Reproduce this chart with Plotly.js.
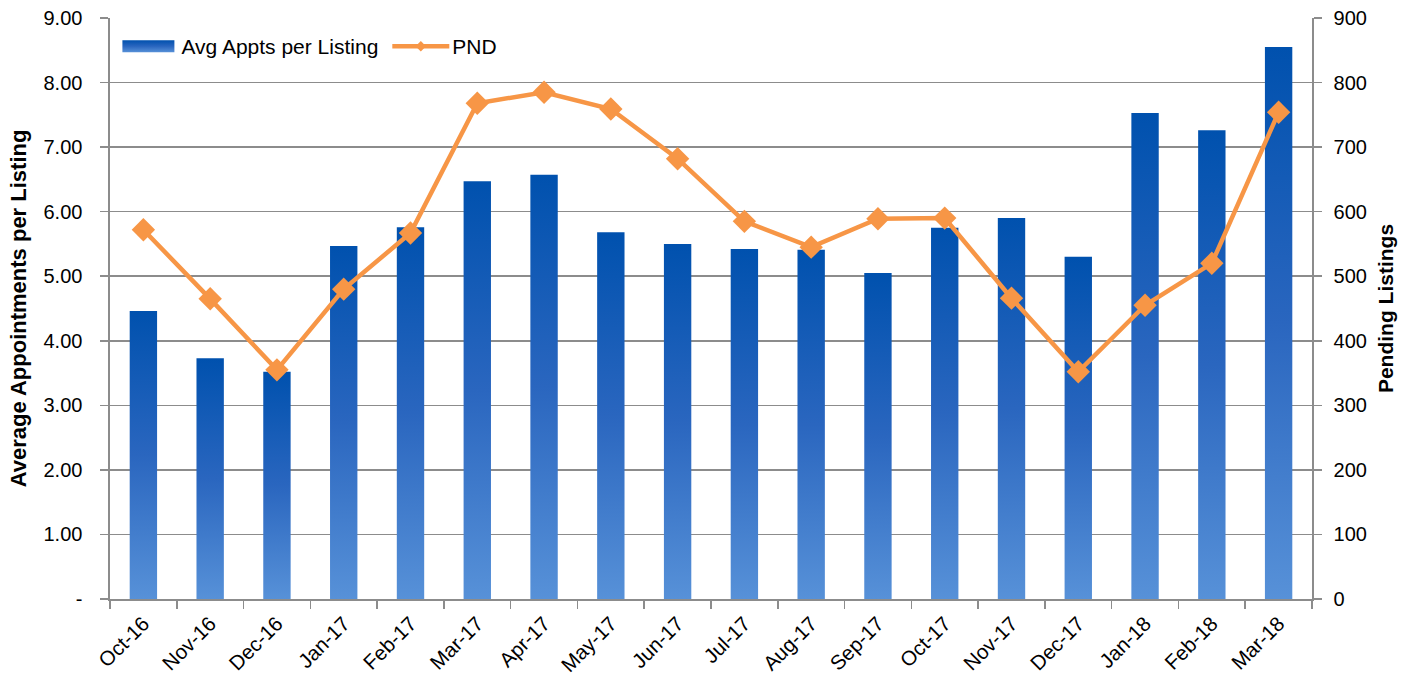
<!DOCTYPE html>
<html>
<head>
<meta charset="utf-8">
<script src="https://cdn.plot.ly/plotly-3.0.1.min.js"></script>
<style>html,body{margin:0;padding:0;background:#fff;}#chart{width:1416px;height:675px;}</style>
</head>
<body>
<div id="chart"></div>
<script>
const months = ["Oct-16","Nov-16","Dec-16","Jan-17","Feb-17","Mar-17","Apr-17","May-17","Jun-17","Jul-17","Aug-17","Sep-17","Oct-17","Nov-17","Dec-17","Jan-18","Feb-18","Mar-18"];
const avgAppts = [4.46,3.73,3.52,5.47,5.76,6.47,6.57,5.68,5.50,5.42,5.41,5.05,5.75,5.90,5.30,7.53,7.26,8.55];
const pnd = [572,465,355,480,567,768,785,759,682,585,545,589,590,466,352,455,520,754];
const leftTickVals = [0,1,2,3,4,5,6,7,8,9];
const leftTickText = ["-","1.00","2.00","3.00","4.00","5.00","6.00","7.00","8.00","9.00"];

const font = "Liberation Sans, Arial, sans-serif";
const gray = "#8c8c8c";

const traces = [
  {
    type: "bar", x: months, y: avgAppts, name: "Avg Appts per Listing",
    marker: {color: "#2a68c0", line: {width: 0}}, width: 0.41, yaxis: "y"
  },
  {
    type: "scatter", mode: "lines+markers", x: months, y: pnd, name: "PND", yaxis: "y2",
    line: {color: "#F79646", width: 4.5},
    marker: {symbol: "diamond", size: 18, color: "#F79646"}
  }
];

const layout = {
  width: 1416, height: 675,
  margin: {l: 110, r: 104, t: 18, b: 76},
  paper_bgcolor: "#fff", plot_bgcolor: "#fff",
  font: {family: font, size: 20, color: "#000"},
  showlegend: true,
  legend: {
    orientation: "h", x: 0.002, y: 0.986, xanchor: "left", yanchor: "top",
    font: {family: font, size: 21, color: "#000"}, bgcolor: "rgba(0,0,0,0)",
    traceorder: "normal", itemwidth: 59
  },
  xaxis: {
    type: "category", range: [-0.5, 17.5], tickangle: -45, ticks: "outside", tickson: "boundaries",
    ticklen: 8, tickcolor: gray, tickwidth: 1.5,
    showline: true, linecolor: gray, linewidth: 1.5, showgrid: false,
    ticklabelstandoff: 3,
    tickfont: {family: font, size: 20.5}, automargin: false
  },
  yaxis: {
    range: [0, 9], tickvals: leftTickVals, ticktext: leftTickText,
    showgrid: true, gridcolor: gray, gridwidth: 1.6, zeroline: false,
    showline: true, linecolor: gray, linewidth: 1.6,
    ticks: "outside", ticklen: 8, tickcolor: gray, tickwidth: 1.5,
    ticklabelstandoff: 14,
    tickfont: {family: font, size: 20},
    title: {text: "<b>Average Appointments per Listing</b>", font: {family: font, size: 22}, standoff: 11},
    automargin: false
  },
  yaxis2: {
    overlaying: "y", side: "right", range: [0, 900], dtick: 100, tick0: 0,
    showgrid: false, zeroline: false,
    showline: true, linecolor: gray, linewidth: 1.6,
    ticks: "outside", ticklen: 8, tickcolor: gray, tickwidth: 1.5,
    ticklabelstandoff: 8,
    tickfont: {family: font, size: 20},
    title: {text: "<b>Pending Listings</b>", font: {family: font, size: 21}, standoff: 12},
    automargin: false
  }
};

const SVGNS = "http://www.w3.org/2000/svg";

function toLocalX(el, screenX) {
  const m = el.parentNode.getScreenCTM();
  const pt = el.ownerSVGElement.createSVGPoint();
  pt.x = screenX; pt.y = 0;
  return pt.matrixTransform(m.inverse()).x;
}

function applyStyling(gd) {
  const svg = gd.querySelector("svg.main-svg");
  if (!svg) return;
  let defs = svg.querySelector("defs");
  if (!defs) { defs = document.createElementNS(SVGNS, "defs"); svg.insertBefore(defs, svg.firstChild); }
  if (!svg.querySelector("#barGrad")) {
    const lg = document.createElementNS(SVGNS, "linearGradient");
    lg.setAttribute("id", "barGrad");
    lg.setAttribute("x1", "0"); lg.setAttribute("y1", "0");
    lg.setAttribute("x2", "0"); lg.setAttribute("y2", "1");
    [["0", "#0051ae"], ["0.5", "#2a66bf"], ["1", "#5791d8"]].forEach(s => {
      const st = document.createElementNS(SVGNS, "stop");
      st.setAttribute("offset", s[0]); st.setAttribute("stop-color", s[1]);
      lg.appendChild(st);
    });
    defs.appendChild(lg);
  }
  gd.querySelectorAll(".barlayer .trace.bars .point path").forEach(p => { p.style.fill = "url(#barGrad)"; });

  const items = gd.querySelectorAll(".legend .traces");
  items.forEach((t, i) => {
    const txt = t.querySelector("text.legendtext");
    if (!txt) return;
    const tx = txt.getBoundingClientRect().left;
    if (i === 0) {
      const p = t.querySelector(".legendpoints path");
      if (!p || p.dataset.done) return;
      p.removeAttribute("transform");
      const right = toLocalX(p, tx - 7);
      p.setAttribute("d", `M${right - 52},-6h52v12h-52z`);
      p.style.fill = "url(#barGrad)";
      p.dataset.done = "1";
    } else {
      const ln = t.querySelector(".legendlines path");
      if (ln && !ln.dataset.done) {
        const right = toLocalX(ln, tx - 3);
        ln.setAttribute("d", `M${right - 57},0h57`);
        ln.style.strokeWidth = "4.5px";
        ln.dataset.done = "1";
        const mk = t.querySelector(".legendsymbols path");
        if (mk) {
          const cx = toLocalX(mk, tx - 3 - 28.5);
          mk.setAttribute("transform", `translate(${cx},0) scale(0.5)`);
        }
      }
    }
  });
}

const gd = document.getElementById("chart");
Plotly.newPlot(gd, traces, layout, {displayModeBar: false, staticPlot: true}).then(() => {
  applyStyling(gd);
});
</script>
</body>
</html>
